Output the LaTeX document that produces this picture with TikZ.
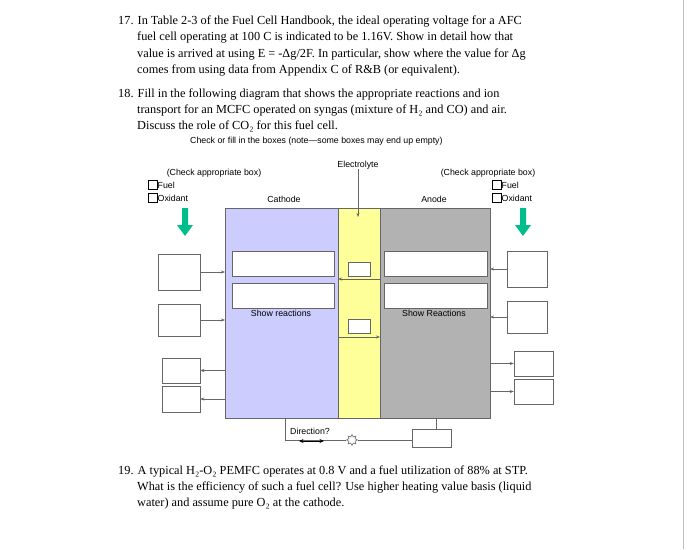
\documentclass[tikz,border=0pt]{standalone}
\usepackage{fontspec}
\setmainfont{Liberation Serif}
\newfontfamily\arialf{Liberation Sans}
\usetikzlibrary{arrows.meta,shapes.geometric}
\definecolor{cathc}{RGB}{204,204,255}
\definecolor{elyc}{RGB}{255,255,153}
\definecolor{anoc}{RGB}{178,178,178}
\definecolor{greenar}{RGB}{0,190,140}
\begin{document}
\begin{tikzpicture}[x=1pt,y=-1pt,
  tline/.style={anchor=base west,inner sep=0,font=\fontsize{12.3}{14}\selectfont},
  sl/.style={inner sep=0,font=\arialf\fontsize{8.8}{10}\selectfont},
  wbox/.style={draw=black!60,fill=white,line width=0.5pt},
  conn/.style={draw=black!60,line width=0.5pt},
  arr/.style={conn,-{Stealth[length=4pt,width=3pt]}},
  cb/.style={draw=black,line width=0.8pt,minimum size=9pt,inner sep=0}]
\useasboundingbox (0,0) rectangle (700,549);
\fill[white] (0,0) rectangle (700,549);
\draw[black!25] (683,0) -- (683,549);
% text
\node[tline] (t1) at (118,24) {17. In Table 2-3 of the Fuel Cell Handbook, the ideal operating voltage for a AFC};
\node[tline] (t2) at (137,40) {fuel cell operating at 100 C is indicated to be 1.16V.  Show in detail how that};
\node[tline] (t3) at (137,57) {value is arrived at using E = -Δg/2F.  In particular, show where the value for Δg};
\node[tline] (t4) at (137,73) {comes from using data from Appendix C of R\&B (or equivalent).};
\node[tline] (t5) at (118,97) {18. Fill in the following diagram that shows the appropriate reactions and ion};
\node[tline] (t6) at (137,113) {transport for an MCFC operated on syngas (mixture of H₂ and CO) and air.};
\node[tline] (t7) at (137,129) {Discuss the role of CO₂ for this fuel cell.};
\node[sl,anchor=base west] (t8) at (190,143) {Check or fill in the boxes (note—some boxes may end up empty)};
\node[tline] (t9) at (118,474) {19. A typical H₂-O₂ PEMFC operates at 0.8 V and a fuel utilization of 88\% at STP.};
\node[tline] (t10) at (137,490) {What is the efficiency of such a fuel cell?  Use higher heating value basis (liquid};
\node[tline] (t11) at (137,506) {water) and assume pure O₂ at the cathode.};
% cell
\draw[conn,fill=cathc] (225,208) rectangle (338,418);
\draw[conn,fill=elyc] (338,208) rectangle (380,418);
\draw[conn,fill=anoc] (380,208) rectangle (490,418);
\coordinate (cl) at (225,0); \coordinate (ar) at (490,0);
\draw[wbox] (232,251) rectangle (334,276);
\draw[wbox] (232,283) rectangle (334,308);
\draw[wbox] (384,251) rectangle (487,276);
\draw[wbox] (384,283) rectangle (487,308);
\node[sl] (sr1) at (281,313) {Show reactions};
\node[sl] (sr2) at (434,313) {Show Reactions};
\draw[wbox] (348,262) rectangle (370,276);
\draw[wbox] (348,319) rectangle (370,333);
\coordinate (e1a) at (380,279); \coordinate (e1b) at (338,279);
\coordinate (e2a) at (338,337); \coordinate (e2b) at (380,337);
\draw[arr] (e1a) -- (e1b);
\draw[arr] (e2a) -- (e2b);
\node[sl] (ely) at (358,165) {Electrolyte};
\coordinate (elyt) at (358,217);
\draw[arr] (ely.south) -- (elyt);
\node[sl] (cat) at (284,199) {Cathode};
\node[sl] (ano) at (434,199) {Anode};
% checks
\node[sl] (cl1) at (214,173) {(Check appropriate box)};
\node[cb] (cbf1) at (153,185) {}; \node[sl,anchor=west] at (157.5,185) {Fuel};
\node[cb] (cbo1) at (153,198) {}; \node[sl,anchor=west] at (157.5,198) {Oxidant};
\node[sl] (cl2) at (488,173) {(Check appropriate box)};
\node[cb] (cbf2) at (497,185) {}; \node[sl,anchor=west] at (501.5,185) {Fuel};
\node[cb] (cbo2) at (497,198) {}; \node[sl,anchor=west] at (501.5,198) {Oxidant};
\foreach \x in {185,523}{
 \fill[greenar] (\x-3,208) -- (\x+3,208) -- (\x+3,225) -- (\x+8,225) -- (\x,236) -- (\x-8,225) -- (\x-3,225) -- cycle;}
\node[wbox,minimum width=42pt,minimum height=36pt] (L1) at (179,272) {};
\node[wbox,minimum width=42pt,minimum height=32pt] (L2) at (179,320) {};
\node[wbox,minimum width=38pt,minimum height=25pt] (L3) at (181,370.5) {};
\node[wbox,minimum width=38pt,minimum height=26pt] (L4) at (181,399) {};
\draw[arr] (L1.east) -- (L1.east -| cl);
\draw[arr] (L2.east) -- (L2.east -| cl);
\draw[arr] (L3.east -| cl) -- (L3.east);
\draw[arr] (L4.east -| cl) -- (L4.east);
\node[wbox,minimum width=40pt,minimum height=36pt] (R1) at (527,269) {};
\node[wbox,minimum width=40pt,minimum height=32pt] (R2) at (527,317) {};
\node[wbox,minimum width=39pt,minimum height=25pt] (R3) at (533.5,363.5) {};
\node[wbox,minimum width=39pt,minimum height=25pt] (R4) at (533.5,391.5) {};
\draw[arr] (R1.west) -- (R1.west -| ar);
\draw[arr] (R2.west) -- (R2.west -| ar);
\draw[arr] (R3.west -| ar) -- (R3.west);
\draw[arr] (R4.west -| ar) -- (R4.west);
% bottom circuit
\node[wbox,minimum width=39pt,minimum height=18pt] (B) at (431.5,438) {};
\node[draw=black!60,line width=0.6pt,star,star points=8,star point ratio=1.7,minimum size=11pt,inner sep=0,fill=white] (S) at (352,440) {};
\coordinate (cb1) at (285,418); \coordinate (cb2) at (285,440);
\coordinate (ab1) at (436,418);
\draw[conn] (cb1) -- (cb2) -- (S.west);
\draw[conn] (S.east) -- (S.east -| B.west);
\draw[conn] (ab1) -- (ab1 |- B.north);
\node[sl] (dir) at (310,431) {Direction?};
\coordinate (d1) at (299,441); \coordinate (d2) at (324,441);
\draw[line width=0.9pt,{Stealth[length=4.5pt,width=4pt]}-{Stealth[length=4.5pt,width=4pt]}] (d1) -- (d2);
\end{tikzpicture}
\end{document}
